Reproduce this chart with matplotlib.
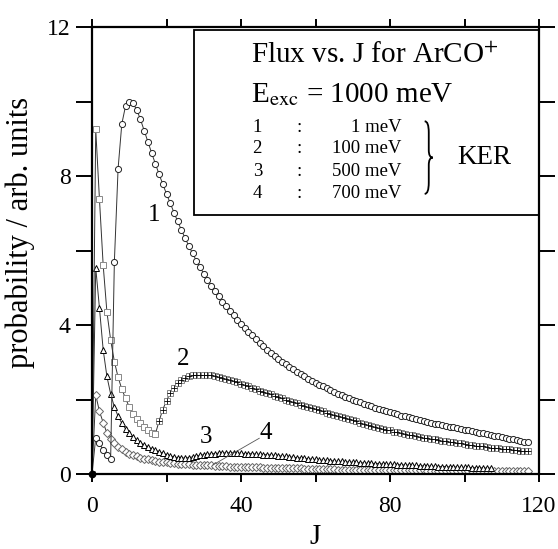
import numpy as np
import matplotlib
matplotlib.use('Agg')
import matplotlib.pyplot as plt
from matplotlib.path import Path
from matplotlib.patches import PathPatch, Rectangle

plt.rcParams['font.family'] = ['Liberation Serif', 'DejaVu Serif']
plt.rcParams['mathtext.fontset'] = 'stix'

# flux vs J, one value per J starting at J = 0
FLUX_1 = [0.0, 0.98, 0.82, 0.64, 0.50, 0.40, 5.70, 8.20, 9.40, 9.88,
          10.00, 9.95, 9.78, 9.52, 9.22, 8.92, 8.62, 8.33, 8.05, 7.78,
          7.52, 7.27, 7.02, 6.78, 6.55, 6.33, 6.12, 5.92, 5.73, 5.55,
          5.38, 5.22, 5.06, 4.91, 4.77, 4.63, 4.50, 4.38, 4.26, 4.14,
          4.03, 3.92, 3.82, 3.72, 3.62, 3.52, 3.43, 3.34, 3.26, 3.18,
          3.10, 3.02, 2.95, 2.88, 2.81, 2.74, 2.68, 2.62, 2.56, 2.50,
          2.45, 2.40, 2.35, 2.30, 2.25, 2.21, 2.16, 2.12, 2.08, 2.04,
          2.00, 1.96, 1.92, 1.89, 1.85, 1.82, 1.78, 1.75, 1.72, 1.69,
          1.66, 1.63, 1.60, 1.57, 1.55, 1.52, 1.50, 1.47, 1.45, 1.42,
          1.40, 1.38, 1.35, 1.33, 1.31, 1.29, 1.27, 1.25, 1.23, 1.21,
          1.19, 1.17, 1.15, 1.13, 1.11, 1.09, 1.07, 1.05, 1.03, 1.01,
          0.99, 0.97, 0.95, 0.93, 0.91, 0.89, 0.87, 0.85]

FLUX_2 = [0.0, 9.25, 7.37, 5.60, 4.35, 3.60, 3.02, 2.60, 2.28, 2.03,
          1.80, 1.62, 1.48, 1.37, 1.27, 1.18, 1.11, 1.07, 1.42, 1.73,
          1.97, 2.17, 2.32, 2.44, 2.53, 2.59, 2.63, 2.65, 2.67, 2.67,
          2.67, 2.66, 2.65, 2.63, 2.61, 2.58, 2.55, 2.52, 2.49, 2.46,
          2.42, 2.39, 2.35, 2.32, 2.28, 2.24, 2.21, 2.17, 2.14, 2.10,
          2.07, 2.03, 2.00, 1.96, 1.93, 1.90, 1.86, 1.83, 1.80, 1.77,
          1.74, 1.71, 1.68, 1.65, 1.62, 1.59, 1.56, 1.53, 1.50, 1.47,
          1.44, 1.41, 1.38, 1.35, 1.32, 1.30, 1.27, 1.24, 1.22, 1.19,
          1.17, 1.14, 1.12, 1.10, 1.08, 1.06, 1.04, 1.02, 1.00, 0.98,
          0.96, 0.94, 0.93, 0.91, 0.89, 0.88, 0.86, 0.85, 0.83, 0.82,
          0.80, 0.79, 0.78, 0.76, 0.75, 0.74, 0.72, 0.71, 0.70, 0.69,
          0.68, 0.67, 0.66, 0.65, 0.64, 0.63, 0.62, 0.61]

FLUX_3 = [0.0, 5.54, 4.45, 3.33, 2.62, 2.15, 1.80, 1.55, 1.36, 1.21,
          1.09, 0.99, 0.91, 0.84, 0.78, 0.73, 0.68, 0.64, 0.60, 0.56,
          0.52, 0.49, 0.46, 0.44, 0.43, 0.43, 0.44, 0.46, 0.48, 0.50,
          0.52, 0.53, 0.54, 0.55, 0.56, 0.56, 0.57, 0.57, 0.57, 0.56,
          0.56, 0.55, 0.55, 0.54, 0.54, 0.53, 0.52, 0.52, 0.51, 0.50,
          0.49, 0.48, 0.47, 0.46, 0.45, 0.44, 0.43, 0.42, 0.41, 0.40,
          0.39, 0.38, 0.37, 0.37, 0.36, 0.35, 0.34, 0.34, 0.33, 0.32,
          0.32, 0.31, 0.30, 0.30, 0.29, 0.29, 0.28, 0.28, 0.27, 0.27,
          0.26, 0.26, 0.25, 0.25, 0.24, 0.24, 0.23, 0.23, 0.22, 0.22,
          0.22, 0.21, 0.21, 0.20, 0.20, 0.20, 0.19, 0.19, 0.19, 0.18,
          0.18, 0.18, 0.17, 0.17, 0.17, 0.16, 0.16, 0.16]

FLUX_4 = [0.0, 2.12, 1.68, 1.38, 1.10, 0.93, 0.82, 0.73, 0.66, 0.60,
          0.55, 0.51, 0.47, 0.44, 0.41, 0.39, 0.37, 0.35, 0.33, 0.32,
          0.31, 0.30, 0.29, 0.28, 0.27, 0.26, 0.26, 0.25, 0.25, 0.24,
          0.24, 0.23, 0.23, 0.22, 0.22, 0.21, 0.21, 0.20, 0.20, 0.20,
          0.19, 0.19, 0.19, 0.18, 0.18, 0.18, 0.17, 0.17, 0.17, 0.16,
          0.16, 0.16, 0.16, 0.15, 0.15, 0.15, 0.15, 0.14, 0.14, 0.14,
          0.14, 0.13, 0.13, 0.13, 0.13, 0.13, 0.12, 0.12, 0.12, 0.12,
          0.12, 0.12, 0.11, 0.11, 0.11, 0.11, 0.11, 0.11, 0.11, 0.10,
          0.10, 0.10, 0.10, 0.10, 0.10, 0.10, 0.10, 0.10, 0.10, 0.10,
          0.09, 0.09, 0.09, 0.09, 0.09, 0.09, 0.09, 0.09, 0.09, 0.09,
          0.08, 0.08, 0.08, 0.08, 0.08, 0.08, 0.08, 0.08, 0.08, 0.08,
          0.08, 0.07, 0.07, 0.07, 0.07, 0.07, 0.07, 0.07]

KER_IDS = ['1', '2', '3', '4']
KER_VALUES = ['1 meV', '100 meV', '500 meV', '700 meV']
# curve label positions (J, flux)
CURVE_LABEL_POS = [(16.8, 6.95), (24.4, 3.1), (30.7, 1.0), (46.6, 1.09)]

fig = plt.figure(figsize=(5.58, 5.49), dpi=100)
ax = fig.add_axes([0.1649, 0.1366, 0.8011, 0.8142])

mk = dict(lw=0.7, color='#333333', mfc='white', ms=4.4, mew=0.7)
j1 = np.arange(len(FLUX_1))
j2 = np.arange(len(FLUX_2))
j3 = np.arange(len(FLUX_3))
j4 = np.arange(len(FLUX_4))
ax.plot(j4, FLUX_4, marker='D', mec='#666666', **{**mk, 'ms': 3.6})
ax.plot(j3, FLUX_3, marker='^', mec='black', **mk)
ax.plot(j2, FLUX_2, marker='s', mec='#888888', **{**mk, 'ms': 4.0})
ax.plot(j2[18:], FLUX_2[18:], ls='none', marker='+', ms=3.8, mew=0.6, color='black')
ax.plot(j1, FLUX_1, marker='o', mec='#222222', **mk)
ax.plot([0], [0], 'o', color='black', ms=4.5, zorder=5, clip_on=False)

for lab, (xj, yv) in zip(KER_IDS, CURVE_LABEL_POS):
    ax.text(xj, yv, lab, fontsize=18, ha='center', va='center')
ax.plot([44.9, 32.4], [0.96, 0.24], color='#555555', lw=0.6)

ax.set_xlim(0, 120)
ax.set_ylim(0, 12)
ax.set_xticks([0, 40, 80, 120])
ax.set_xticks([20, 60, 100], minor=True)
ax.set_yticks([0, 4, 8, 12])
ax.set_yticks([2, 6, 10], minor=True)
for s in ax.spines.values():
    s.set_linewidth(1.6)
ax.tick_params(which='both', direction='out', top=True, right=True,
               labeltop=False, labelright=False, width=1.4, labelsize=17)
ax.tick_params(axis='x', which='both', length=6, pad=10)
ax.tick_params(axis='y', which='both', length=11.5, pad=4)
ax.set_xlabel('J', fontsize=21, labelpad=5)
ax.set_ylabel('probability / arb. units', fontsize=22)
ax.yaxis.set_label_coords(-0.128, 0.54)

# legend box
ax.add_patch(Rectangle((27.4, 6.95), 92.6, 4.97, fill=False, lw=1.3, zorder=6))
ax.text(42.8, 11.03, 'Flux vs. J for ArCO$^{+}$', fontsize=21, va='baseline')
ax.text(42.8, 9.99, r'E$_{\mathrm{exc}}$ = 1000 meV', fontsize=21, va='baseline')
row_y = [9.19, 8.62, 8.0, 7.42]
for ident, val, yy in zip(KER_IDS, KER_VALUES, row_y):
    ax.text(43.1, yy, ident, fontsize=13.5, va='baseline')
    ax.text(54.9, yy, ':', fontsize=13.5, va='baseline')
    ax.text(83.1, yy, val, fontsize=13.5, va='baseline', ha='right')

# curly brace
xc, w, top, bot = 90.4, 1.1, 9.47, 7.52
mid = (top + bot) / 2
verts = [(xc - w, top), (xc, top), (xc, top - 0.3),
         (xc, mid + 0.2), (xc, mid), (xc + w, mid),
         (xc, mid), (xc, mid - 0.2),
         (xc, bot + 0.3), (xc, bot), (xc - w, bot)]
codes = [Path.MOVETO, Path.CURVE3, Path.CURVE3,
         Path.LINETO, Path.CURVE3, Path.CURVE3,
         Path.CURVE3, Path.CURVE3,
         Path.LINETO, Path.CURVE3, Path.CURVE3]
ax.add_patch(PathPatch(Path(verts, codes), fill=False, lw=1.3))
ax.text(98.1, 8.5, 'KER', fontsize=19.5, va='center')

fig.savefig('out.png', dpi=100)
